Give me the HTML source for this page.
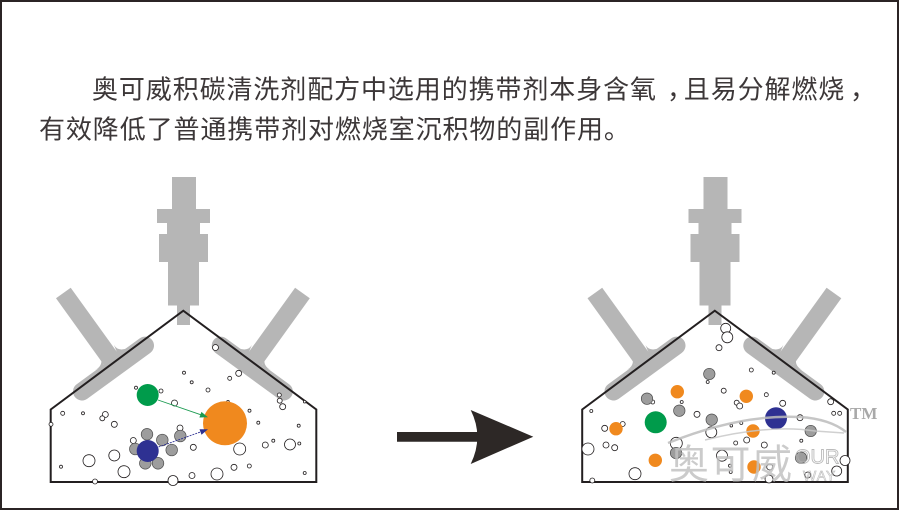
<!DOCTYPE html>
<html><head><meta charset="utf-8">
<style>
html,body{margin:0;padding:0;background:#fff;}
body{width:899px;height:510px;overflow:hidden;position:relative;}
svg{position:absolute;left:0;top:0;}
</style></head>
<body>
<svg width="899" height="510" viewBox="0 0 899 510" xmlns="http://www.w3.org/2000/svg">
<defs>
  <g id="valve">
    <polygon points="56,298.3 70.7,287.7 123.3,360.8 108.6,371.4" fill="#b6b6b6"/>
    <line x1="145" y1="345.6" x2="82" y2="391.5" stroke="#b6b6b6" stroke-width="18" stroke-linecap="round"/>
    <path d="M114,345 Q118,352 128,348 L118.4,356 Z" fill="#b6b6b6"/>
    <path d="M101,358 Q103,366 95,370 L104,366 Z" fill="#b6b6b6"/>
  </g>
  <g id="assembly">
    <g fill="#b6b6b6">
      <rect x="172" y="177" width="24" height="33"/>
      <rect x="157" y="209" width="53" height="14"/>
      <rect x="167" y="222.5" width="33" height="12"/>
      <rect x="159" y="234" width="49" height="28"/>
      <rect x="168" y="261.5" width="31" height="44"/>
      <rect x="177" y="305" width="13" height="20"/>
    </g>
    <use href="#valve"/>
    <use href="#valve" transform="translate(365.8,0) scale(-1,1)"/>
    <path d="M50.7,409.5 L183.3,310.7 L316.3,409.5 L316.3,482 L50.7,482 Z" fill="none" stroke="#231f20" stroke-width="2"/>
  </g>
</defs>

<rect x="1" y="1" width="897" height="508" fill="none" stroke="#2b2425" stroke-width="2"/>

<g font-family="'Liberation Sans','Noto Sans CJK SC',sans-serif" font-size="26" fill="#3c3738" letter-spacing="0.9">
  <text x="92" y="98.5">奥可威积碳清洗剂配方中选用的携带剂本身含氧</text>
  <text x="667" y="98.5">，</text>
  <text x="683.8" y="98.5">且易分解燃烧</text>
  <text x="850" y="98.5">，</text>
  <text x="39" y="138.3">有效降低了普通携带剂对燃烧室沉积物的副作用。</text>
</g>

<use href="#assembly"/>
<use href="#assembly" transform="translate(531.5,0)"/>

<!-- left chamber particles -->
<g fill="#fff" stroke="#231f20" stroke-width="0.8">
  <circle cx="184" cy="372.7" r="1.5"/><circle cx="191.7" cy="382.3" r="1.5"/>
  <circle cx="229.7" cy="378.3" r="2"/><circle cx="238.7" cy="373.3" r="3"/>
  <circle cx="215.5" cy="347.5" r="3"/><circle cx="161" cy="391" r="2"/>
  <circle cx="136" cy="387.7" r="1.5"/><circle cx="208" cy="390" r="2"/>
  <circle cx="174.5" cy="403" r="3"/><circle cx="228" cy="401.7" r="1.3"/>
  <circle cx="279.3" cy="395" r="2"/><circle cx="279.7" cy="400.7" r="2.5"/>
  <circle cx="282.7" cy="406.7" r="3"/><circle cx="304.7" cy="401.7" r="1.3"/>
  <circle cx="62.7" cy="413.3" r="2"/><circle cx="83" cy="413.3" r="1.5"/>
  <circle cx="105.3" cy="414.5" r="3"/><circle cx="102.3" cy="418.3" r="2.5"/>
  <circle cx="114.3" cy="424.3" r="3"/><circle cx="51" cy="424.3" r="2"/>
  <circle cx="249.5" cy="410.7" r="1.5"/><circle cx="258.3" cy="422.7" r="1.5"/>
  <circle cx="298.7" cy="425.7" r="1.5"/><circle cx="180" cy="428" r="3"/>
  <circle cx="133.3" cy="440.5" r="3"/><circle cx="193.3" cy="447.3" r="3"/>
  <circle cx="239.7" cy="449" r="6"/><circle cx="265.3" cy="445" r="3"/>
  <circle cx="273.3" cy="440.7" r="1.5"/><circle cx="290" cy="444.5" r="5.5"/>
  <circle cx="299.3" cy="443.5" r="1.5"/><circle cx="89" cy="460.7" r="6"/>
  <circle cx="114.3" cy="455.5" r="5.5"/><circle cx="124" cy="471.7" r="6"/>
  <circle cx="61" cy="466.7" r="1.5"/><circle cx="192" cy="475.5" r="3"/>
  <circle cx="217" cy="474" r="6"/><circle cx="234" cy="467.3" r="3"/>
  <circle cx="249.3" cy="466" r="2"/><circle cx="304.7" cy="473" r="1.5"/>
  <circle cx="173" cy="480.5" r="5"/><circle cx="95" cy="481.5" r="2.5"/>
</g>
<g fill="#9d9d9d" stroke="#4a4a4a" stroke-width="0.7">
  <circle cx="180.3" cy="436" r="5.8"/><circle cx="147" cy="434.3" r="5.8"/>
  <circle cx="162.3" cy="440" r="5.8"/><circle cx="171.7" cy="450" r="5.8"/>
  <circle cx="158" cy="463.3" r="5.8"/><circle cx="145.3" cy="463.3" r="5.8"/>
  <circle cx="135.3" cy="449" r="5.8"/>
</g>
<circle cx="225" cy="423.3" r="22" fill="#f0891e"/>
<circle cx="147.7" cy="395" r="11" fill="#009b4b"/>
<circle cx="147.7" cy="451" r="11" fill="#2e3192"/>
<line x1="158" y1="400" x2="201" y2="414.8" stroke="#1a9a50" stroke-width="0.9"/>
<polygon points="208,417.3 199.4,417.5 201.4,411.9" fill="#1a9a50"/>
<line x1="158.5" y1="447" x2="201" y2="431.8" stroke="#2e3192" stroke-width="0.9" stroke-dasharray="2,1"/>
<polygon points="208,429.3 201.5,434.8 199.5,429.2" fill="#2e3192"/>

<!-- big arrow -->
<path d="M397,432 L479,432 L479,441.7 L397,441.7 Z" fill="#2d2826"/>
<path d="M470.7,410 L533.3,436.7 L470.7,464 Q484,436.7 470.7,410 Z" fill="#2d2826"/>

<!-- right chamber particles -->
<g fill="#fff" stroke="#231f20" stroke-width="0.8">
  <circle cx="725.7" cy="328.3" r="5"/><circle cx="727.3" cy="337.3" r="5.5"/>
  <circle cx="719" cy="347.7" r="3"/><circle cx="751.3" cy="370" r="2"/>
  <circle cx="773.7" cy="372.7" r="1.5"/><circle cx="707.7" cy="382" r="1.5"/>
  <circle cx="723.7" cy="390.7" r="2.5"/><circle cx="766.3" cy="394.7" r="2"/>
  <circle cx="652.7" cy="402" r="2"/><circle cx="681.7" cy="402" r="1.5"/>
  <circle cx="736.7" cy="402.7" r="2.5"/><circle cx="739.7" cy="406" r="3"/>
  <circle cx="782.7" cy="403.3" r="3"/><circle cx="830.7" cy="401.7" r="3"/>
  <circle cx="591.3" cy="411" r="1.5"/><circle cx="697" cy="414.3" r="3"/>
  <circle cx="833.7" cy="413.3" r="2"/><circle cx="839.7" cy="413.3" r="2"/>
  <circle cx="741.3" cy="423" r="1.5"/><circle cx="731.3" cy="425.7" r="1.3"/>
  <circle cx="800" cy="417.7" r="3"/><circle cx="711.3" cy="432.3" r="5.5"/>
  <circle cx="622.7" cy="424" r="2.5"/><circle cx="604.7" cy="428.3" r="3"/>
  <circle cx="606" cy="445" r="3"/><circle cx="614.7" cy="447.7" r="3"/>
  <circle cx="588" cy="449" r="6"/><circle cx="676.3" cy="443.3" r="6"/>
  <circle cx="735.7" cy="443" r="2"/><circle cx="746.7" cy="440" r="3"/>
  <circle cx="722" cy="455.7" r="5.5"/><circle cx="764.3" cy="445" r="3"/>
  <circle cx="801.3" cy="440.7" r="1.5"/><circle cx="845" cy="460.5" r="5"/>
  <circle cx="769.7" cy="467" r="3"/><circle cx="730" cy="465.7" r="1.5"/>
  <circle cx="730.7" cy="472" r="1.5"/><circle cx="635" cy="473.7" r="6"/>
  <circle cx="807.7" cy="475" r="3"/><circle cx="836.7" cy="471" r="5"/>
  <circle cx="592.3" cy="480.5" r="2.5"/><circle cx="769" cy="479" r="4"/>
</g>
<g fill="#9d9d9d" stroke="#4a4a4a" stroke-width="0.7">
  <circle cx="709.3" cy="374" r="5.7"/><circle cx="647" cy="398.7" r="5.7"/>
  <circle cx="679.3" cy="410.7" r="5.7"/><circle cx="711.7" cy="419.7" r="5.7"/>
  <circle cx="810.7" cy="431" r="5.7"/><circle cx="676" cy="453" r="5.7"/>
  <circle cx="801" cy="457.7" r="5.7"/>
</g>
<g fill="#f0891e">
  <circle cx="677.3" cy="391.7" r="6.7"/><circle cx="746.3" cy="396.3" r="6.7"/>
  <circle cx="616" cy="428.7" r="6.7"/><circle cx="753" cy="431" r="6.7"/>
  <circle cx="655.3" cy="460.3" r="6.7"/><circle cx="754" cy="467" r="6.7"/>
</g>
<circle cx="655.7" cy="422.3" r="11" fill="#009b4b"/>
<circle cx="776" cy="418.3" r="11" fill="#2e3192"/>

<!-- watermark -->
<g opacity="0.85">
  <path d="M668,443 Q740,414 800,417 Q830,419 846,432" fill="none" stroke="#bdbdbd" stroke-width="2.5"/>
  <path d="M705,440 Q770,424 815,431 L844,433" fill="none" stroke="#c8c8c8" stroke-width="1.5"/>
  <text x="669" y="478" font-family="'Liberation Sans','Noto Sans CJK SC',sans-serif" font-size="40" letter-spacing="1.5" fill="#c2c2c2">奥可威</text>
  <text x="795" y="463.5" font-family="'Liberation Sans',sans-serif" font-size="20" fill="none" stroke="#b0b0b0" stroke-width="0.9">OUR</text>
  <text x="803" y="480.5" font-family="'Liberation Sans',sans-serif" font-size="14" letter-spacing="1" fill="none" stroke="#b8b8b8" stroke-width="0.7">WAY</text>
</g>
<text x="850" y="419" font-family="'Liberation Serif',serif" font-size="17" font-weight="bold" fill="#a9a9a9">TM</text>
</svg>
</body></html>
